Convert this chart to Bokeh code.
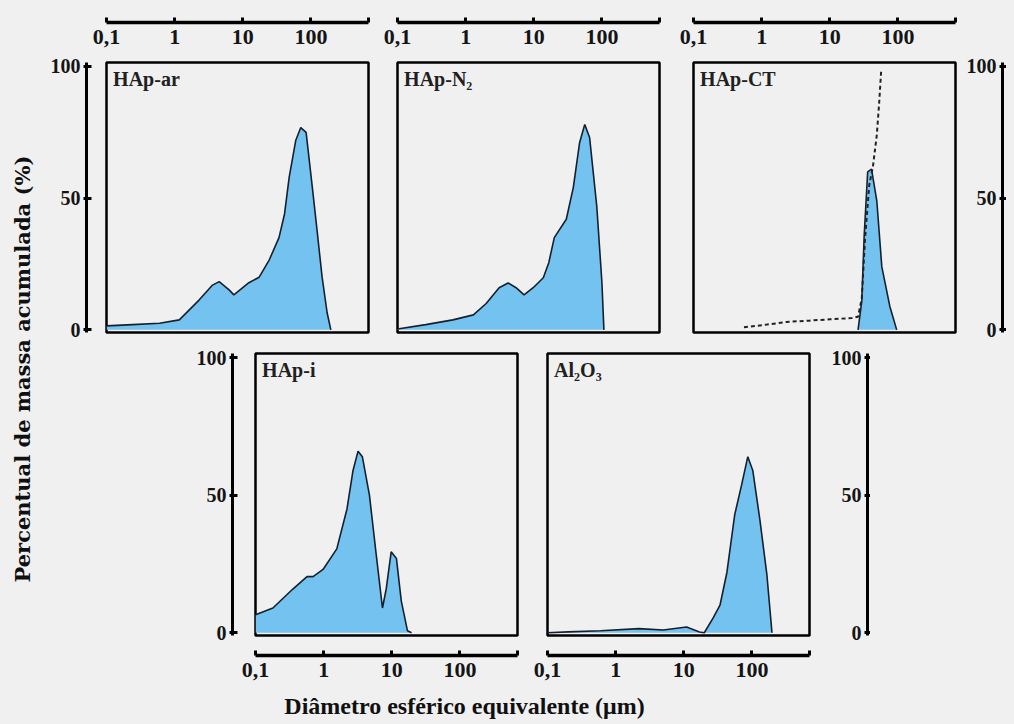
import math
from bokeh.plotting import figure
from bokeh.layouts import row, column
from bokeh.models import Range1d, LinearAxis, FixedTicker, Label, Spacer, LogScale
from bokeh.embed import file_html
from bokeh.resources import INLINE

# ---------------- data ----------------
x_tick_values = [0.1, 1, 10, 100]
x_tick_labels = ["0,1", "1", "10", "100"]
y_tick_values = [0, 50, 100]
y_tick_labels = ["0", "50", "100"]
X_START, X_END = 0.1, 700
Y_START, Y_END = -1, 101.5

panel_names = ["HAp-ar", "HAp-N\u2082", "HAp-CT", "HAp-i", "Al\u2082O\u2083"]

ar_d = [0.1, 0.24, 0.6, 1.17, 2.3, 3.6, 4.5, 6.3, 7.4, 12.3, 17.4, 24.5, 34, 41, 48, 60, 71, 85, 105, 124, 146, 173, 196]
ar_v = [1.5, 2, 2.5, 3.8, 11.4, 17, 18.3, 15.2, 13.3, 17.9, 20, 26.6, 35, 44, 58, 72, 76.8, 75, 54, 37, 20, 6.5, 0]

n2_d = [0.1, 0.26, 0.65, 1.3, 2.0, 3.1, 4.2, 5.5, 7.2, 9.8, 13.8, 16.6, 20, 30, 38, 47, 56, 66, 84, 100, 107]
n2_v = [0.3, 2, 3.8, 5.7, 10, 16, 17.8, 16, 13.3, 16, 19.8, 25.5, 35, 42, 54, 71, 78, 73, 47, 18, 0]

ct_d = [26, 29.5, 32, 36, 41, 49, 58, 76, 96]
ct_v = [0, 11, 36, 60, 61, 49, 24, 9, 0]
ct_cum_d = [0.55, 1.2, 2.3, 5, 10, 21, 26, 29.5, 33, 38, 43, 49, 53, 57]
ct_cum_v = [1, 2, 3, 3.5, 4, 4.5, 5, 12, 35, 55, 62, 74, 86, 99]

hi_d = [0.1, 0.107, 0.18, 0.35, 0.57, 0.7, 0.98, 1.56, 2.2, 2.7, 3.2, 3.7, 4.7, 6.0, 7.3, 8.3, 9.8, 11.7, 13.8, 17, 19.5]
hi_v = [6.5, 6.8, 9, 15.8, 20.4, 20.4, 23, 30.5, 45, 59, 66, 64, 50, 27, 9, 16, 29.4, 27, 11.5, 0.7, 0]

al_d = [0.1, 0.2, 0.6, 2.2, 5, 11, 17, 20, 27, 34, 43, 56, 71, 87, 103, 131, 166, 197]
al_v = [0, 0.3, 0.7, 1.5, 1, 2.1, 0.3, 0, 5.4, 10, 22, 43, 54, 64, 59, 41, 21, 0]

y_label = "Percentual de massa acumulada (%)"
x_label = "Di\u00e2metro esf\u00e9rico equivalente (\u03bcm)"

# ---------------- style ----------------
BG = "#f0f0f0"
FILL = "#74c2f0"
EDGE = "#16202c"
FONT = "Liberation Serif"


def base_fig(width, height, xr=None, yr=None, log_x=True, **borders):
    p = figure(width=width, height=height,
               x_range=xr if xr is not None else Range1d(0, 1),
               y_range=yr if yr is not None else Range1d(0, 1),
               x_axis_type=None, y_axis_type=None,
               toolbar_location=None, output_backend="svg",
               min_border=0, background_fill_color=BG, border_fill_color=BG,
               outline_line_color=None)
    if log_x:
        p.x_scale = LogScale()
    for k, v in borders.items():
        setattr(p, k, v)
    return p


def box_fig(width, height, xr, yr, d, v, name, L, R, T, B):
    p = base_fig(width, height, xr, yr, min_border_left=L, min_border_right=R,
                 min_border_top=T, min_border_bottom=B)
    p.outline_line_color = "black"
    p.outline_line_width = 2.5
    p.varea(x=d, y1=0, y2=v, fill_color=FILL)
    p.line(d, v, line_color=EDGE, line_width=1.6)
    p.add_layout(Label(x=0.125, y=99.5, text=name, text_baseline="top",
                       text_font=FONT, text_font_style="bold",
                       text_font_size="20px", text_color="#202020"))
    return p


def xaxis_fig(width, height, xr, frame_h, L, R):
    p = base_fig(width, height, xr, Range1d(0, 1), min_border_left=L,
                 min_border_right=R, min_border_bottom=height - frame_h)
    overrides = {t: s for t, s in zip(x_tick_values, x_tick_labels)}
    overrides[X_END] = ""
    ax = LinearAxis(ticker=FixedTicker(ticks=x_tick_values + [X_END]),
                    major_label_overrides=overrides,
                    axis_line_width=3.5, major_tick_in=5, major_tick_out=0,
                    major_tick_line_width=3, minor_tick_in=0, minor_tick_out=0,
                    major_label_standoff=7, major_label_text_font=FONT,
                    major_label_text_font_style="bold",
                    major_label_text_font_size="22px",
                    major_label_text_color="#151515")
    p.add_layout(ax, "below")
    return p


def yaxis_fig(width, height, yr, L, T, B):
    p = base_fig(width, height, Range1d(0, 1), yr, log_x=False,
                 min_border_left=L, min_border_top=T, min_border_bottom=B)
    overrides = {t: s for t, s in zip(y_tick_values, y_tick_labels)}
    ax = LinearAxis(ticker=FixedTicker(ticks=y_tick_values),
                    major_label_overrides=overrides,
                    axis_line_width=3, major_tick_in=5, major_tick_out=3,
                    major_tick_line_width=3, minor_tick_in=0, minor_tick_out=0,
                    major_label_standoff=3, major_label_text_font=FONT,
                    major_label_text_font_style="bold",
                    major_label_text_font_size="20px",
                    major_label_text_color="#151515")
    p.add_layout(ax, "left")
    return p


def xr():
    return Range1d(X_START, X_END)


def yr():
    return Range1d(Y_START, Y_END)


# ---------------- top row ----------------
xr1, yr1 = xr(), yr()
yax1 = yaxis_fig(48, 332, yr1, 42, 54, 8)
tax1 = xaxis_fig(290, 52, xr1, 14, 14, 14)
box1 = box_fig(290, 280, xr1, yr1, ar_d, ar_v, panel_names[0], 14, 14, 2, 8)
col1 = row(yax1, column(tax1, box1))

xr2, yr2 = xr(), yr()
tax2 = xaxis_fig(292, 52, xr2, 14, 15, 15)
box2 = box_fig(292, 280, xr2, yr2, n2_d, n2_v, panel_names[1], 15, 15, 2, 8)
col2 = column(tax2, box2)

xr3, yr3 = xr(), yr()
tax3 = xaxis_fig(283, 52, xr3, 14, 19, 2)
box3 = box_fig(283, 280, xr3, yr3, ct_d, ct_v, panel_names[2], 19, 2, 2, 8)
box3.line(ct_cum_d, ct_cum_v, line_color="#222222", line_width=2, line_dash="4 3")
rax3 = yaxis_fig(49, 332, yr3, 45, 54, 8)
col3 = row(column(tax3, box3), rax3)

top_row = row(col1, col2, col3)

# ---------------- bottom row ----------------
xr4, yr4 = xr(), yr()
yax4 = yaxis_fig(51, 348, yr4, 42, 13, 53)
box4 = box_fig(291, 297, xr4, yr4, hi_d, hi_v, panel_names[3], 14, 15, 13, 2)
bax4 = xaxis_fig(291, 51, xr4, 18, 14, 15)
col4 = row(yax4, column(box4, bax4))

xr5, yr5 = xr(), yr()
box5 = box_fig(279, 297, xr5, yr5, al_d, al_v, panel_names[4], 15, 2, 13, 2)
bax5 = xaxis_fig(279, 51, xr5, 18, 15, 2)
rax5 = yaxis_fig(59, 348, yr5, 56, 13, 53)
col5 = row(column(box5, bax5), rax5)

bottom_row = row(Spacer(width=146, height=348), col4, col5)

# ---------------- axis titles ----------------
xlab = base_fig(962, 34, log_x=False)
xlab.add_layout(Label(x=0.4366, y=0.5, text=x_label, text_align="center",
                      text_baseline="middle", text_font=FONT,
                      text_font_style="bold", text_font_size="24px",
                      text_color="#101010"))

ylab = base_fig(36, 714, log_x=False)
ylab.add_layout(Label(x=0.40, y=0.495, text=y_label, angle=math.pi / 2,
                      text_align="center", text_baseline="middle",
                      text_font="DejaVu Serif", text_font_style="bold",
                      text_font_size="21px", text_color="#101010"))

main = column(top_row, bottom_row, xlab)
root = row(ylab, main)

html = file_html(root, INLINE)
html = html.replace("</head>", "<style>body{background-color:#f0f0f0;margin:8px;overflow:hidden;}</style></head>", 1)
open("out.html", "w").write(html)
